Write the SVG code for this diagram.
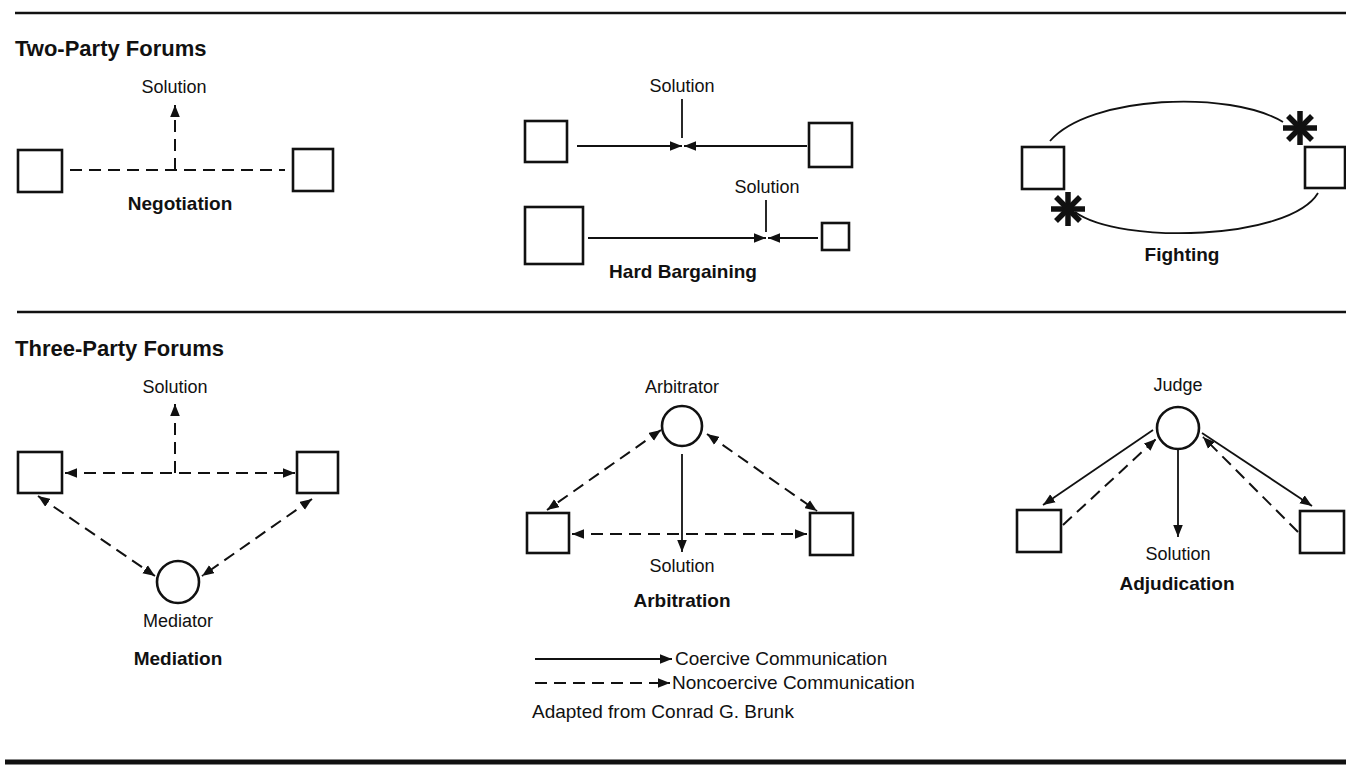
<svg xmlns="http://www.w3.org/2000/svg" width="1346" height="773" viewBox="0 0 1346 773">
<style>
.box{fill:#fff;stroke:#111;stroke-width:2.6}
.circ{fill:#fff;stroke:#111;stroke-width:2.6}
.solid{fill:none;stroke:#111;stroke-width:1.8}
.dash{fill:none;stroke:#111;stroke-width:2;stroke-dasharray:12 7}
.rule{stroke:#111;fill:none}
.t{font-family:"Liberation Sans",Arial,sans-serif;font-size:18px;fill:#111}
.lg{font-family:"Liberation Sans",Arial,sans-serif;font-size:19px;fill:#111}
.b{font-family:"Liberation Sans",Arial,sans-serif;font-size:19px;font-weight:bold;fill:#111}
.h{font-family:"Liberation Sans",Arial,sans-serif;font-size:22px;font-weight:bold;fill:#111}
.c{text-anchor:middle}
.star{stroke:#111;stroke-width:5.5;stroke-linecap:butt}
</style>
<defs>
<marker id="ah" viewBox="0 0 10 8" refX="10" refY="4" markerWidth="12" markerHeight="10" orient="auto-start-reverse" markerUnits="userSpaceOnUse"><path d="M0,0 L10,4 L0,8 z" fill="#111"/></marker>
<g id="starShape"><line class="star" x1="0" y1="-17" x2="0" y2="17"/><line class="star" x1="-17" y1="0" x2="17" y2="0"/><line class="star" x1="-12" y1="-12" x2="12" y2="12"/><line class="star" x1="-12" y1="12" x2="12" y2="-12"/></g>
</defs>
<rect width="1346" height="773" fill="#fff"/>
<g id="rules">
<line class="rule" x1="15" y1="13" x2="1346" y2="13" stroke-width="2.5"/>
<line class="rule" x1="17" y1="312" x2="1346" y2="312" stroke-width="2.5"/>
<line class="rule" x1="5" y1="762" x2="1346" y2="762" stroke-width="5"/>
</g>
<text class="h" x="15" y="56">Two-Party Forums</text>
<text class="h" x="15" y="356">Three-Party Forums</text>

<g id="negotiation">
<rect class="box" x="18" y="150" width="44" height="42"/>
<rect class="box" x="293" y="149" width="40" height="42"/>
<text class="t c" x="174" y="93">Solution</text>
<text class="b c" x="180" y="210">Negotiation</text>
</g>
<g id="hard-bargaining">
<rect class="box" x="525" y="121" width="42" height="41"/>
<rect class="box" x="809" y="123" width="43" height="44"/>
<rect class="box" x="525" y="207" width="58" height="57" stroke-width="3.5"/>
<rect class="box" x="822" y="223" width="27" height="27"/>
<text class="t c" x="682" y="92">Solution</text>
<text class="t c" x="767" y="193">Solution</text>
<text class="b c" x="683" y="278">Hard Bargaining</text>
</g>
<g id="fighting">
<rect class="box" x="1022" y="147" width="42" height="42"/>
<rect class="box" x="1305" y="147" width="40" height="41"/>
<use href="#starShape" transform="translate(1300,128)"/>
<use href="#starShape" transform="translate(1068,209)"/>
<text class="b c" x="1182" y="261">Fighting</text>
</g>
<g id="mediation">
<rect class="box" x="18" y="452" width="44" height="41"/>
<rect class="box" x="297" y="452" width="41" height="41"/>
<circle class="circ" cx="178" cy="582" r="21"/>
<text class="t c" x="175" y="393">Solution</text>
<text class="t c" x="178" y="627">Mediator</text>
<text class="b c" x="178" y="665">Mediation</text>
</g>
<g id="arbitration">
<circle class="circ" cx="682" cy="426" r="20"/>
<rect class="box" x="527" y="513" width="42" height="40"/>
<rect class="box" x="810" y="513" width="43" height="42"/>
<text class="t c" x="682" y="393">Arbitrator</text>
<text class="t c" x="682" y="572">Solution</text>
<text class="b c" x="682" y="607">Arbitration</text>
</g>
<g id="adjudication">
<circle class="circ" cx="1178" cy="428" r="21"/>
<rect class="box" x="1017" y="510" width="44" height="42"/>
<rect class="box" x="1300" y="511" width="44" height="42"/>
<text class="t c" x="1178" y="391">Judge</text>
<text class="t c" x="1178" y="560">Solution</text>
<text class="b c" x="1177" y="590">Adjudication</text>
</g>
<g id="legend">
<text class="lg" x="675" y="665">Coercive Communication</text>
<text class="lg" x="672" y="689">Noncoercive Communication</text>
<text class="lg" x="532" y="718">Adapted from Conrad G. Brunk</text>
</g>

<g id="connectors">
<line class="dash" x1="70" y1="170" x2="285" y2="170"/>
<line class="dash" x1="175" y1="170" x2="175" y2="105" marker-end="url(#ah)"/>
<line class="solid" x1="577" y1="146" x2="682" y2="146" marker-end="url(#ah)"/>
<line class="solid" x1="807" y1="146" x2="684" y2="146" marker-end="url(#ah)"/>
<line class="solid" x1="682" y1="99" x2="682" y2="138"/>
<line class="solid" x1="588" y1="238" x2="766" y2="238" marker-end="url(#ah)"/>
<line class="solid" x1="818" y1="238" x2="768" y2="238" marker-end="url(#ah)"/>
<line class="solid" x1="766" y1="200" x2="766" y2="232"/>
<path class="solid" d="M1050,141 C1090,95 1230,90 1283,122"/>
<path class="solid" d="M1318,193 C1290,240 1120,245 1075,212"/>
<line class="dash" x1="65" y1="473" x2="295" y2="473" marker-start="url(#ah)" marker-end="url(#ah)"/>
<line class="dash" x1="175" y1="473" x2="175" y2="404" marker-end="url(#ah)"/>
<line class="dash" x1="38" y1="496" x2="155" y2="576" marker-start="url(#ah)" marker-end="url(#ah)"/>
<line class="dash" x1="312" y1="499" x2="202" y2="576" marker-start="url(#ah)" marker-end="url(#ah)"/>
<line class="dash" x1="572" y1="534" x2="807" y2="534" marker-start="url(#ah)" marker-end="url(#ah)"/>
<line class="solid" x1="682" y1="454" x2="682" y2="552" marker-end="url(#ah)"/>
<line class="dash" x1="661" y1="430" x2="547" y2="510" marker-start="url(#ah)" marker-end="url(#ah)"/>
<line class="dash" x1="707" y1="434" x2="817" y2="511" marker-start="url(#ah)" marker-end="url(#ah)"/>
<line class="solid" x1="1178" y1="450" x2="1178" y2="537" marker-end="url(#ah)"/>
<line class="solid" x1="1153" y1="430" x2="1043" y2="505" marker-end="url(#ah)"/>
<line class="dash" x1="1063" y1="525" x2="1156" y2="439" marker-end="url(#ah)"/>
<line class="solid" x1="1202" y1="433" x2="1312" y2="506" marker-end="url(#ah)"/>
<line class="dash" x1="1298" y1="532" x2="1203" y2="437" marker-end="url(#ah)"/>
<line class="solid" x1="535" y1="659" x2="672" y2="659" marker-end="url(#ah)"/>
<line class="dash" x1="535" y1="683" x2="670" y2="683" marker-end="url(#ah)"/>
</g>
</svg>
